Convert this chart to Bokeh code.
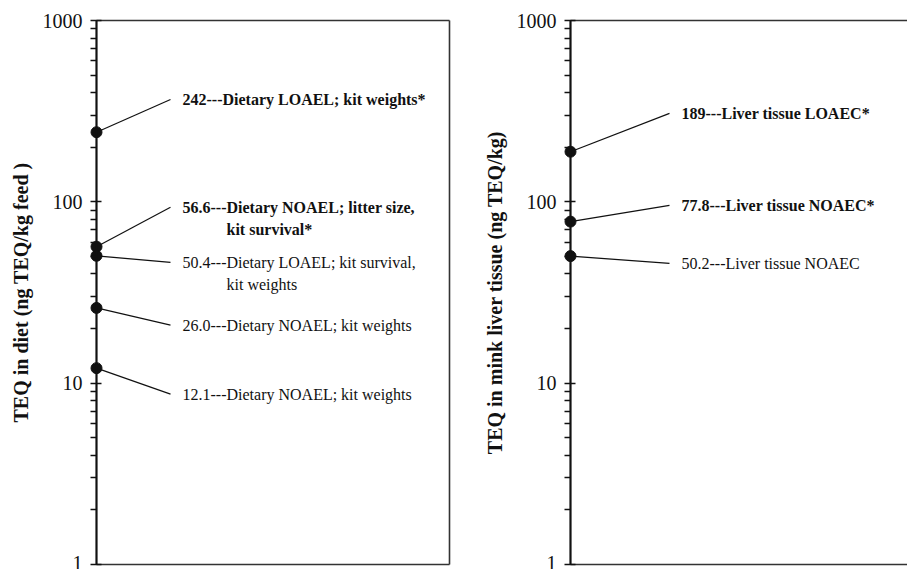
from bokeh.plotting import figure
from bokeh.models import Range1d, FixedTicker
from bokeh.layouts import row
from bokeh.embed import file_html
from bokeh.resources import INLINE
from bokeh.core.properties import value

# Dietary TEQ thresholds (ng TEQ/kg feed)
diet_values = [242, 56.6, 50.4, 26.0, 12.1]
diet_labels = [
    "242---Dietary LOAEL; kit weights*",
    "56.6---Dietary NOAEL; litter size,",
    "50.4---Dietary LOAEL; kit survival,",
    "26.0---Dietary NOAEL; kit weights",
    "12.1---Dietary NOAEL; kit weights",
]
diet_label_cont = ["", "kit survival*", "kit weights", "", ""]
diet_bold = [True, True, False, False, False]

# Liver tissue TEQ thresholds (ng TEQ/kg)
liver_values = [189, 77.8, 50.2]
liver_labels = [
    "189---Liver tissue LOAEC*",
    "77.8---Liver tissue NOAEC*",
    "50.2---Liver tissue NOAEC",
]
liver_label_cont = ["", "", ""]
liver_bold = [True, True, False]

tick_values = [1, 10, 100, 1000]
tick_labels = ["1", "10", "100", "1000"]

# where each callout text sits on the value axis
diet_label_y = [367, 93.3, 46.4, 20.9, 8.7]
liver_label_y = [307.6, 95.6, 45.8]

FONT = "Liberation Serif"
INK = "#111111"
EDGE = "#333333"
AXIS_X = 96          # pixels from the panel's left edge to its value axis
DECADE = 544 / 3.0   # pixels per decade on the log axis
TOP_PAD, BOTTOM_PAD = 12, 5   # drawing room above 1000 and below 1
Y_LO = 10 ** (-BOTTOM_PAD / DECADE)
Y_HI = 10 ** (3 + TOP_PAD / DECADE)


def make_panel(values, labels, cont, bold, label_y, ylabel,
               box_w, frame_w, line_end, text_x, right_border):
    p = figure(
        output_backend="svg", toolbar_location=None,
        y_axis_type="log", x_axis_location=None,
        frame_width=frame_w, frame_height=544 + TOP_PAD + BOTTOM_PAD,
        min_border_left=0, min_border_right=0,
        min_border_top=20 - TOP_PAD, min_border_bottom=0,
        x_range=Range1d(-AXIS_X, frame_w - AXIS_X),
        y_range=Range1d(Y_LO, Y_HI),
    )
    p.outline_line_color = None
    p.grid.visible = False
    p.background_fill_color = "white"
    p.border_fill_color = "white"

    minor = [m * d for d in (1, 10, 100) for m in range(2, 10)]
    ax = p.yaxis[0]
    ax.fixed_location = 0
    ax.bounds = (1, 1000)
    ax.ticker = FixedTicker(ticks=tick_values, minor_ticks=minor)
    ax.major_label_overrides = {v: t for v, t in zip(tick_values, tick_labels)}
    ax.axis_line_width = 2.2
    ax.axis_line_color = INK
    ax.major_tick_line_color = INK
    ax.minor_tick_line_color = INK
    ax.major_tick_line_width = 1.5
    ax.minor_tick_line_width = 1.3
    ax.major_tick_in = 5
    ax.major_tick_out = 6
    ax.minor_tick_in = 0
    ax.minor_tick_out = 6
    ax.major_label_standoff = 8
    ax.major_label_text_font = FONT
    ax.major_label_text_font_size = "20px"
    ax.major_label_text_color = INK
    ax.axis_label = ylabel
    ax.axis_label_text_font = FONT
    ax.axis_label_text_font_size = "20px"
    ax.axis_label_text_font_style = "bold"
    ax.axis_label_text_color = INK
    ax.axis_label_standoff = 8

    # box edges: top, bottom and (optionally) right
    p.segment(x0=[0, 0], y0=[1000, 1], x1=[box_w, box_w], y1=[1000, 1],
              line_color=EDGE, line_width=1.6)
    if right_border:
        p.segment(x0=[box_w], y0=[1], x1=[box_w], y1=[1000],
                  line_color=EDGE, line_width=1.6)

    # leader lines from each value to its callout
    p.segment(x0=[0] * len(values), y0=values,
              x1=[line_end] * len(values), y1=label_y,
              line_color=INK, line_width=1.2)
    p.scatter(x=[0] * len(values), y=values, size=11,
              fill_color=INK, line_color=INK)

    for lab, extra, b, ly in zip(labels, cont, bold, label_y):
        style = "bold" if b else "normal"
        p.text(x=[text_x], y=[ly], text=[lab],
               text_font=value(FONT), text_font_size="16px",
               text_font_style=style, text_color=INK,
               text_baseline="middle", text_align="left")
        if extra:
            p.text(x=[text_x + 44], y=[ly], text=[extra],
                   y_offset=22,
                   text_font=value(FONT), text_font_size="16px",
                   text_font_style=style, text_color=INK,
                   text_baseline="middle", text_align="left")
    return p


left = make_panel(diet_values, diet_labels, diet_label_cont, diet_bold,
                  diet_label_y, "TEQ in diet (ng TEQ/kg feed )",
                  box_w=353, frame_w=474,
                  line_end=74, text_x=86, right_border=True)
right = make_panel(liver_values, liver_labels, liver_label_cont, liver_bold,
                   liver_label_y, "TEQ in mink liver tissue (ng TEQ/kg)",
                   box_w=400, frame_w=433,
                   line_end=99, text_x=111, right_border=False)

layout = row(left, right, spacing=0)
open("out.html", "w").write(file_html(layout, INLINE))
